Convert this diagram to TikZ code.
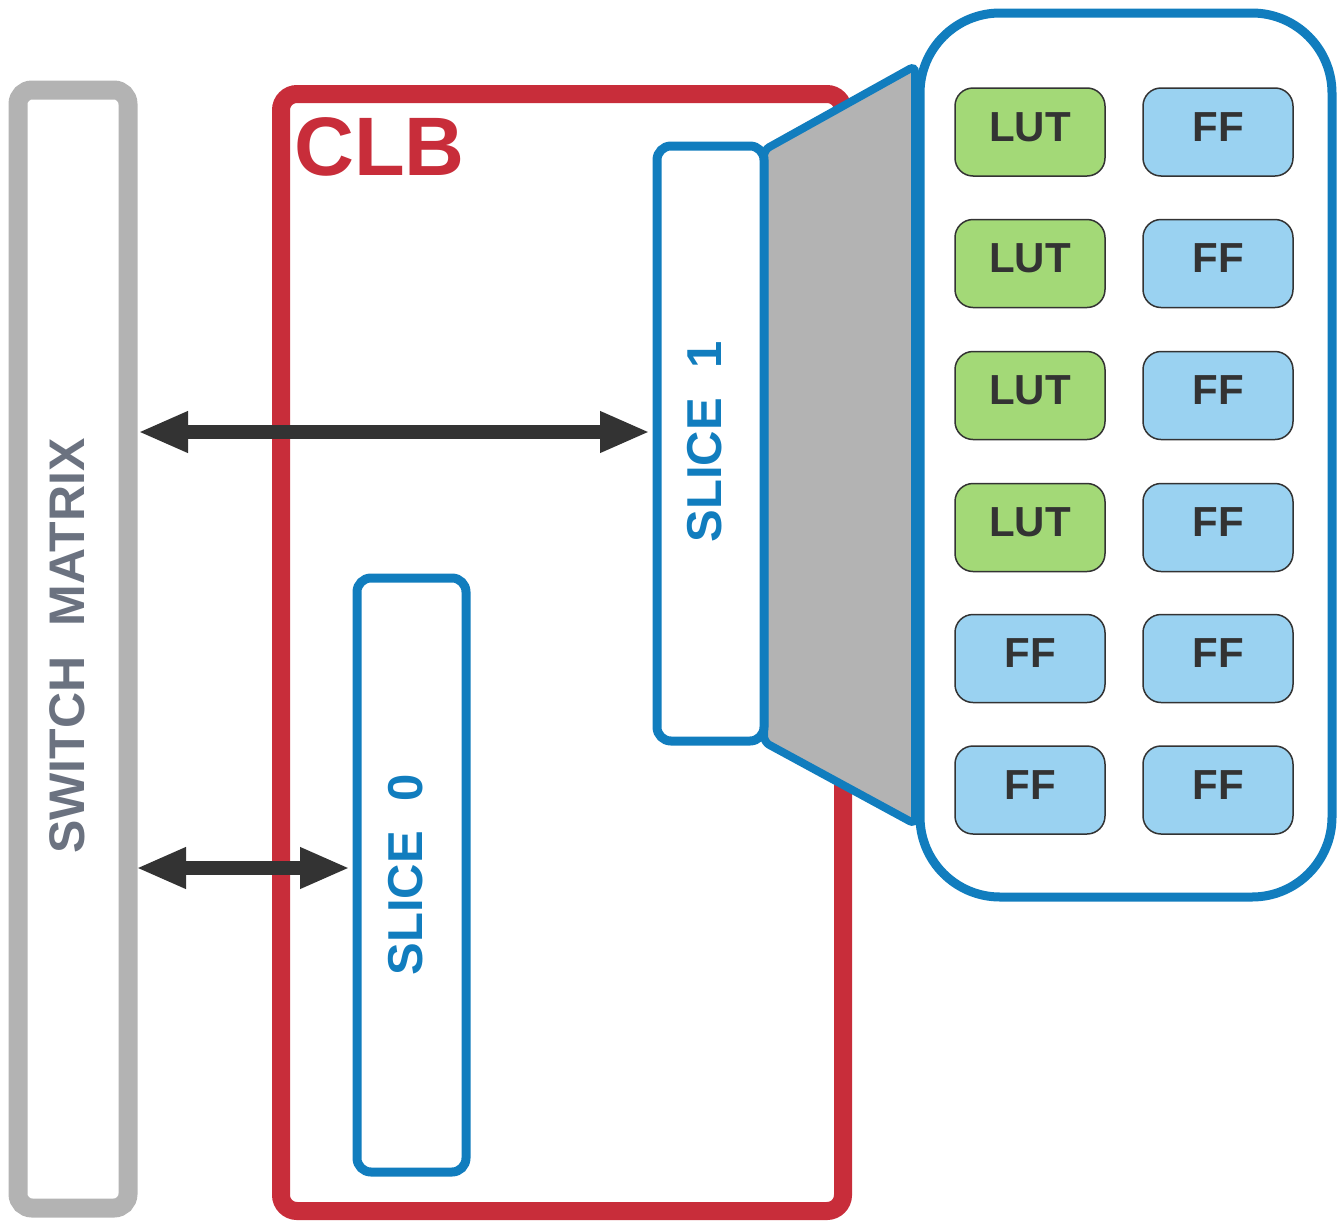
\documentclass[tikz,border=0pt]{standalone}
\usepackage{fontspec}
\setmainfont{Liberation Sans}
\usetikzlibrary{arrows.meta}
\definecolor{clbred}{RGB}{200,45,58}
\definecolor{slblue}{RGB}{17,125,190}
\definecolor{swgray}{RGB}{179,179,179}
\definecolor{txgray}{RGB}{107,114,128}
\definecolor{lutgreen}{RGB}{163,217,119}
\definecolor{ffblue}{RGB}{154,210,241}
\definecolor{darkc}{RGB}{51,51,51}
\tikzset{
  boxbase/.style={rectangle, inner sep=0pt, outer sep=0pt},
  swbox/.style={boxbase, draw=swgray, fill=white, line width=19pt, rounded corners=14pt},
  clbbox/.style={boxbase, draw=clbred, fill=white, line width=18pt, rounded corners=16pt},
  slicebox/.style={boxbase, draw=slblue, fill=white, line width=9pt, rounded corners=14pt},
  cell/.style={boxbase, draw=darkc, line width=1.5pt, rounded corners=18pt, minimum width=150pt, minimum height=88pt},
  lutcell/.style={cell, fill=lutgreen},
  ffcell/.style={cell, fill=ffblue},
  celltext/.style={inner sep=0pt, text=darkc, font=\fontsize{42}{50}\selectfont\bfseries},
  arr/.style={draw=darkc, line width=14pt, {Triangle[length=50pt,width=38pt]}-{Triangle[length=50pt,width=38pt]}},
}
\begin{document}
\begin{tikzpicture}[x=1pt,y=-1pt]
\useasboundingbox (0,0) rectangle (1341,1221);
% switch matrix
\node[swbox, minimum width=110pt, minimum height=1118pt] (sw) at (73,649) {};
\node[inner sep=0pt, rotate=90, text=txgray, font=\fontsize{50}{60}\selectfont\bfseries] (swt) at (67,646) {SWITCH\hspace{0.6em}MATRIX};
% CLB
\node[clbbox, minimum width=562pt, minimum height=1117pt] (clb) at (562,652.5) {};
\node[inner sep=0pt, anchor=base west, text=clbred, font=\fontsize{83}{98}\selectfont\bfseries] (clbt) at (294,175) {CLB};
% trapezoid zoom
\draw[draw=slblue, fill=swgray, line width=8pt, rounded corners=6pt] (764,150) -- (915,66) -- (915,824) -- (764,742) -- cycle;
% slices
\node[slicebox, minimum width=107pt, minimum height=595pt] (s1) at (710.5,443.5) {};
\node[inner sep=0pt, rotate=90, text=slblue, font=\fontsize{49}{58}\selectfont\bfseries] (s1t) at (704.5,442) {SLICE\hspace{0.6em}1};
\node[slicebox, minimum width=109pt, minimum height=594pt] (s0) at (411.5,875) {};
\node[inner sep=0pt, rotate=90, text=slblue, font=\fontsize{49}{58}\selectfont\bfseries] (s0t) at (406,875) {SLICE\hspace{0.6em}0};
% container
\node[boxbase, draw=slblue, fill=white, line width=9pt, rounded corners=80pt, minimum width=412pt, minimum height=884pt] (cont) at (1126,455) {};
% cells
\foreach \r/\y in {1/132,2/263.5,3/395.5,4/527.5}{
  \node[lutcell] (l\r) at (1030,\y) {};
  \node[celltext] at ([yshift=5pt]l\r.center) {LUT};
}
\foreach \r/\y in {5/658.5,6/790}{
  \node[ffcell] (l\r) at (1030,\y) {};
  \node[celltext] at ([yshift=5pt]l\r.center) {FF};
}
\foreach \r/\y in {1/132,2/263.5,3/395.5,4/527.5,5/658.5,6/790}{
  \node[ffcell] (f\r) at (1218,\y) {};
  \node[celltext] at ([yshift=5pt]f\r.center) {FF};
}
% arrows
\coordinate (ya) at (0,432);
\coordinate (yb) at (0,868);
\draw[arr] ([xshift=10pt]sw.east |- ya) -- ([xshift=-7pt]s1.west |- ya);
\draw[arr] ([xshift=8pt]sw.east |- yb) -- ([xshift=-7pt]s0.west |- yb);
\end{tikzpicture}
\end{document}
